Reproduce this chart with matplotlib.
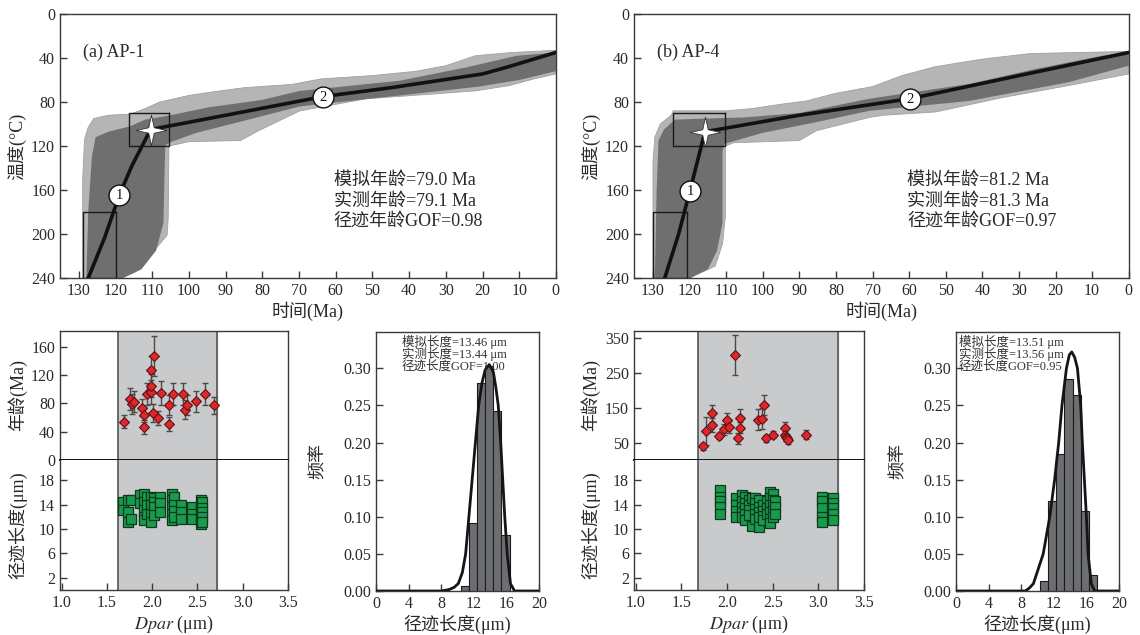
import matplotlib
matplotlib.use('Agg')
import matplotlib.pyplot as plt

plt.rcParams['font.family'] = ['Liberation Serif', 'Noto Sans CJK SC']
plt.rcParams['mathtext.fontset'] = 'stix'
plt.rcParams['axes.unicode_minus'] = False

# ---- thermal history (time Ma, temperature C) ----
# AP-1
env_out_a_t = [129, 129, 128.5, 127.5, 126, 122, 116, 112, 108, 100, 94, 85, 72, 64, 50, 38, 30, 22, 12, 0,
               0, 6, 12.6, 21.6, 33.4, 51.6, 69.8, 81, 86, 100, 105.5, 105.7, 106, 111.5, 115, 120]
env_out_a_T = [240, 150, 114, 103, 95, 92, 91, 86, 80, 74, 71, 67, 64, 59, 56, 52, 47, 38, 35, 33,
               54.5, 59, 65, 69.7, 72.7, 77, 88, 106, 115, 116, 120, 186, 201, 223, 235, 240]
env_in_a_t = [128, 127.5, 126.5, 125.5, 122, 116, 112, 105, 95, 80, 70, 42.5, 24.4, 10.7, 0,
              0, 10, 21, 42.5, 69.8, 85, 98, 105.5, 106.5, 107, 109, 113, 118]
env_in_a_T = [240, 180, 130, 112, 107, 102, 96, 92, 85, 78, 70, 60.6, 48.5, 38, 35,
              52, 60, 66, 74, 84, 97, 108, 117, 120, 190, 215, 232, 240]
path_a_t = [127.5, 123, 119, 115.6, 110.5, 90, 63.4, 45, 29, 20, 13.5, 6, 0]
path_a_T = [240, 203, 164.5, 138, 105, 92, 75, 67, 59, 54.5, 48.5, 41, 35]
box_a = [(120, 129, 180, 240), (105.5, 116.3, 90, 120)]
star_a = (110.5, 105)
num_a = [(119, 164.5), (63.4, 75)]
stats_a = ['模拟年龄=79.0 Ma', '实测年龄=79.1 Ma', '径迹年龄GOF=0.98']

# AP-4
env_out_b_t = [130, 130, 129.5, 128, 125, 124.5, 110, 103, 95, 88, 80, 70, 62, 53, 40, 27, 0,
               0, 16.4, 34.6, 52.7, 67, 70.9, 85.3, 90, 108, 110.2, 110.2, 111, 113, 120]
env_out_b_T = [240, 135, 112, 100, 92, 88, 88, 86, 82, 79, 72, 66, 56, 48, 41, 36, 34,
               54.5, 65, 76, 89, 92, 94, 106, 115, 117, 120, 183, 209, 229, 240]
env_in_b_t = [129.5, 129, 128.5, 127, 124, 115, 105, 90, 70.9, 43.6, 25.5, 7.4, 0,
              0, 16.4, 43.6, 70.9, 85, 100, 110.5, 111, 111, 112.5, 115, 120]
env_in_b_T = [240, 160, 115, 105, 96, 95, 94, 90, 77, 63.6, 50, 38, 35,
              47, 62, 79, 88, 98, 108, 118, 125, 190, 215, 232, 240]
path_b_t = [126.8, 123, 119.9, 115.8, 90, 59.8, 30, 0]
path_b_T = [240, 200, 160.6, 107, 92, 77, 56, 35]
box_b = [(120.8, 130, 180, 240), (110.2, 124.5, 90, 120)]
star_b = (115.8, 107)
num_b = [(119.9, 160.6), (59.8, 77)]
stats_b = ['模拟年龄=81.2 Ma', '实测年龄=81.3 Ma', '径迹年龄GOF=0.97']

# ---- single grain ages vs Dpar ----
dpar_age_a = [1.69, 1.75, 1.78, 1.80, 1.89, 1.91, 1.91, 1.94, 1.99, 1.99, 1.99, 2.02, 2.01, 2.06,
              2.10, 2.18, 2.19, 2.23, 2.34, 2.36, 2.38, 2.48, 2.58, 2.68]
age_a = [54, 86, 79, 82, 74, 64, 47, 93, 96, 105, 127, 147, 66, 59, 95, 77, 51, 93, 93, 71, 77, 83, 93, 77]
age_err_a = [9, 15, 14, 15, 12, 11, 10, 15, 17, 16, 20, 28, 13, 10, 17, 14, 10, 16, 16, 13, 14, 15, 16, 12]

dpar_age_b = [1.74, 1.77, 1.83, 1.84, 1.91, 1.97, 2.00, 2.02, 2.09, 2.12, 2.14, 2.14, 2.34, 2.38,
              2.41, 2.43, 2.50, 2.63, 2.63, 2.65, 2.66, 2.67, 2.87]
age_b = [39, 83, 134, 100, 69, 88, 114, 95, 302, 62, 121, 93, 116, 119, 158, 62, 73, 93, 73, 66, 62, 57, 73]
age_err_b = [10, 40, 25, 20, 10, 15, 20, 17, 58, 16, 27, 15, 30, 30, 30, 9, 10, 15, 10, 10, 9, 12, 12]

# ---- track lengths vs Dpar ----
dpar_len_a = [1.68, 1.68, 1.73, 1.73, 1.73, 1.76, 1.76, 1.86, 1.86,
              1.91, 1.91, 1.91, 1.91, 1.91, 1.94, 1.94, 1.94, 1.99, 1.99, 1.99, 1.99,
              2.02, 2.02, 2.02, 2.02, 2.09, 2.09, 2.09, 2.22, 2.22, 2.22, 2.22, 2.22,
              2.24, 2.24, 2.24, 2.24, 2.32, 2.32, 2.32, 2.44, 2.44, 2.44,
              2.54, 2.54, 2.54, 2.54, 2.54, 2.54, 2.55, 2.55, 2.55, 2.55, 2.55]
len_a = [14.4, 13.1, 14.7, 12.8, 11.2, 14.7, 11.7, 15.5, 14.2,
         15.8, 14.4, 13.1, 12.0, 11.4, 15.3, 13.9, 12.5, 15.3, 13.9, 12.5, 11.1,
         15.0, 14.4, 13.6, 12.3, 15.3, 14.2, 12.8, 15.8, 14.7, 13.6, 12.5, 11.4,
         15.3, 14.0, 13.0, 12.0, 13.9, 12.8, 11.7, 13.6, 12.5, 11.7,
         14.7, 13.9, 13.1, 12.3, 11.4, 10.8, 14.4, 13.5, 12.7, 11.9, 11.1]

dpar_len_b = [1.92, 1.92, 1.92, 1.92, 1.92, 2.10, 2.10, 2.10, 2.10,
              2.16, 2.16, 2.16, 2.16, 2.16, 2.20, 2.20, 2.20, 2.20, 2.20,
              2.24, 2.24, 2.24, 2.24, 2.27, 2.27, 2.31, 2.31, 2.31, 2.31, 2.31,
              2.35, 2.35, 2.35, 2.35, 2.35, 2.39, 2.39, 2.39, 2.39, 2.44, 2.44, 2.44,
              2.47, 2.47, 2.47, 2.47, 2.47, 2.47, 2.50, 2.50, 2.50, 2.50, 2.50,
              2.53, 2.53, 2.53, 3.04, 3.04, 3.04, 3.04, 3.04, 3.16, 3.16, 3.16, 3.16, 3.16]
len_b = [16.4, 15.3, 14.5, 13.6, 12.5, 15.0, 14.0, 13.0, 12.0,
         15.5, 14.5, 13.6, 12.8, 12.0, 15.2, 14.2, 13.4, 12.5, 11.5,
         14.7, 13.9, 13.1, 12.3, 15.0, 10.5, 15.0, 14.2, 13.3, 12.5, 11.7,
         14.7, 13.6, 12.7, 11.9, 10.4, 14.0, 13.0, 12.2, 11.4, 14.5, 13.4, 12.5,
         16.0, 15.0, 13.9, 12.8, 11.7, 11.0, 15.8, 14.7, 13.9, 13.0, 12.0,
         14.5, 13.6, 12.5, 15.3, 14.5, 13.4, 12.0, 11.2, 15.0, 14.2, 13.4, 12.5, 11.4]

band_a = (1.62, 2.72)
band_b = (1.68, 3.21)

# ---- length histograms ----
bin_left_a = [10.4, 11.4, 12.4, 13.4, 14.4, 15.4]
freq_a = [0.007, 0.091, 0.280, 0.303, 0.243, 0.075]
curve_a_x = [0, 8, 9, 9.6, 10.1, 10.6, 11.0, 11.4, 11.8, 12.2, 12.6, 13.0, 13.4, 13.9,
             14.4, 14.7, 15.0, 15.3, 15.55, 15.8, 16.1, 16.5, 17.0, 20]
curve_a_y = [0, 0, 0.002, 0.005, 0.01, 0.025, 0.05, 0.10, 0.15, 0.20, 0.25, 0.28, 0.298, 0.305,
             0.295, 0.275, 0.25, 0.20, 0.15, 0.10, 0.05, 0.01, 0, 0]
len_stats_a = ['模拟长度=13.46 μm', '实测长度=13.44 μm', '径迹长度GOF=1.00']

bin_left_b = [10.3, 11.3, 12.3, 13.3, 14.3, 15.3, 16.3]
freq_b = [0.014, 0.121, 0.185, 0.285, 0.264, 0.108, 0.021]
curve_b_x = [0, 8.5, 9, 9.5, 10.1, 10.7, 11.1, 11.5, 12.1, 12.6, 13.0, 13.55, 13.9, 14.2,
             14.55, 14.9, 15.3, 15.5, 15.75, 16.0, 16.2, 16.6, 17.0, 20]
curve_b_y = [0, 0, 0.004, 0.01, 0.03, 0.05, 0.075, 0.10, 0.15, 0.20, 0.25, 0.30, 0.318, 0.322,
             0.315, 0.30, 0.25, 0.20, 0.15, 0.10, 0.05, 0.01, 0, 0]
len_stats_b = ['模拟长度=13.51 μm', '实测长度=13.56 μm', '径迹长度GOF=0.95']

SPINE = '#3a3a3a'
TXT = '#2a2a2a'
star_verts = [(0, 1), (0.18, 0.18), (1, 0), (0.18, -0.18), (0, -1), (-0.18, -0.18), (-1, 0), (-0.18, 0.18), (0, 1)]


def style(ax, fs=11):
    for s in ax.spines.values():
        s.set_color(SPINE)
        s.set_linewidth(1.0)
    ax.tick_params(direction='in', length=5, width=1, color=SPINE, labelsize=fs, labelcolor=TXT)


def draw_history(ax, ot, oT, it, iT, pt, pT, boxes, star, nums, label, stats):
    ax.fill(ot, oT, color='#b5b5b5', lw=0.6, ec='#a0a0a0', zorder=1)
    ax.fill(it, iT, color='#6f6f6f', lw=0, zorder=2)
    for t0, t1, T0, T1 in boxes:
        ax.plot([t0, t1, t1, t0, t0], [T0, T0, T1, T1, T0], color='#1a1a1a', lw=1.0, zorder=3)
    ax.plot(pt, pT, color='#111111', lw=2.6, zorder=4)
    for k, (t, T) in enumerate(nums):
        ax.plot(t, T, 'o', ms=15, mfc='white', mec='#111111', mew=1.0, zorder=5)
        ax.text(t, T + 0.5, str(k + 1), ha='center', va='center', fontsize=10.5, color='#111111', zorder=6)
    ax.plot(star[0], star[1], marker=star_verts, ms=22, mfc='white', mec='#333333', mew=0.6, zorder=6)
    ax.set_xlim(135.2, 0)
    ax.set_ylim(240, 0)
    ax.set_xticks(range(0, 131, 10))
    ax.set_yticks(range(0, 241, 40))
    style(ax, 11.5)
    ax.set_xlabel('时间(Ma)', fontsize=13, color=TXT, labelpad=2)
    ax.set_ylabel('温度(°C)', fontsize=13, color=TXT)
    ax.yaxis.set_label_coords(-0.068, 0.5)
    ax.text(0.046, 0.856, label, transform=ax.transAxes, fontsize=13, color=TXT, va='center')
    for k, s in enumerate(stats):
        ax.text(0.552, 0.371 - k * 0.078, s, transform=ax.transAxes, fontsize=13, color=TXT, va='center')


def draw_dpar(ax_t, ax_b, dpa, ages, errs, dpl, lens, band, ylim_age, yticks_age):
    for ax in (ax_t, ax_b):
        ax.axvspan(band[0], band[1], color='#c9cacc', zorder=0)
        ax.axvline(band[0], color='#555555', lw=1.2, zorder=1)
        ax.axvline(band[1], color='#555555', lw=1.2, zorder=1)
        ax.set_xlim(0.98, 3.5)
        style(ax, 11.5)
    ax_t.errorbar(dpa, ages, yerr=errs, fmt='none', ecolor='#4a4a4a', elinewidth=1, capsize=2, zorder=2)
    ax_t.plot(dpa, ages, 'D', ms=5.5, mfc='#e3242b', mec='#5a1515', mew=0.8, zorder=3)
    ax_t.set_ylim(0, ylim_age)
    ax_t.set_yticks(yticks_age)
    ax_t.set_xticks([])
    ax_t.spines['bottom'].set_color('#111111')
    ax_t.spines['bottom'].set_linewidth(1.4)
    ax_t.set_ylabel('年龄(Ma)', fontsize=13, color=TXT)
    ax_t.yaxis.set_label_coords(-0.145, 0.5)

    ax_b.plot(dpl, lens, 's', ms=6.5, mfc='#1a9a4c', mec='#0d3a1e', mew=0.9, zorder=3)
    ax_b.set_ylim(0, 21.3)
    ax_b.set_yticks([2, 6, 10, 14, 18])
    ax_b.set_xticks([1.0, 1.5, 2.0, 2.5, 3.0, 3.5])
    ax_b.set_xticklabels(['1.0', '1.5', '2.0', '2.5', '3.0', '3.5'])
    ax_b.spines['top'].set_visible(False)
    ax_b.set_ylabel('径迹长度(μm)', fontsize=13, color=TXT)
    ax_b.yaxis.set_label_coords(-0.145, 0.5)
    ax_b.set_xlabel(r'$\it{Dpar}$ (μm)', fontsize=13, color=TXT, labelpad=2)


def draw_hist(ax, lefts, freqs, cx, cy, stats, tx):
    ax.bar(lefts, freqs, width=1.0, align='edge', color='#6d6e71', edgecolor='#1a1a1a', lw=0.8, zorder=2)
    ax.plot(cx, cy, color='#151515', lw=2.0, zorder=3)
    ax.set_xlim(0, 20)
    ax.set_ylim(0, 0.349)
    ax.set_xticks([0, 4, 8, 12, 16, 20])
    ax.set_yticks([0, 0.05, 0.10, 0.15, 0.20, 0.25, 0.30])
    ax.set_yticklabels(['0.00', '0.05', '0.10', '0.15', '0.20', '0.25', '0.30'])
    style(ax, 11.5)
    ax.set_ylabel('频率', fontsize=13, color=TXT)
    ax.yaxis.set_label_coords(-0.3, 0.5)
    ax.set_xlabel('径迹长度(μm)', fontsize=13, color=TXT, labelpad=2)
    for k, s in enumerate(stats):
        ax.text(tx, 0.961 - k * 0.048, s, transform=ax.transAxes, fontsize=9, color='#333333', va='center', zorder=4)


fig = plt.figure(figsize=(11.4, 6.35), dpi=100)

ax1 = fig.add_axes([0.0526, 0.562, 0.435, 0.416])
draw_history(ax1, env_out_a_t, env_out_a_T, env_in_a_t, env_in_a_T, path_a_t, path_a_T,
             box_a, star_a, num_a, '(a) AP-1', stats_a)
ax2 = fig.add_axes([0.5561, 0.562, 0.434, 0.416])
draw_history(ax2, env_out_b_t, env_out_b_T, env_in_b_t, env_in_b_T, path_b_t, path_b_T,
             box_b, star_b, num_b, '(b) AP-4', stats_b)

ax3t = fig.add_axes([0.0526, 0.2756, 0.2, 0.2032])
ax3b = fig.add_axes([0.0526, 0.0709, 0.2, 0.2047])
draw_dpar(ax3t, ax3b, dpar_age_a, age_a, age_err_a, dpar_len_a, len_a, band_a, 182, [0, 40, 80, 120, 160])
ax4t = fig.add_axes([0.5561, 0.2756, 0.2018, 0.2032])
ax4b = fig.add_axes([0.5561, 0.0709, 0.2018, 0.2047])
draw_dpar(ax4t, ax4b, dpar_age_b, age_b, age_err_b, dpar_len_b, len_b, band_b, 371, [50, 150, 250, 350])

ax5 = fig.add_axes([0.3298, 0.0693, 0.143, 0.408])
draw_hist(ax5, bin_left_a, freq_a, curve_a_x, curve_a_y, len_stats_a, 0.16)
ax6 = fig.add_axes([0.8386, 0.0693, 0.143, 0.408])
draw_hist(ax6, bin_left_b, freq_b, curve_b_x, curve_b_y, len_stats_b, 0.018)

fig.savefig('out.png', dpi=100)
